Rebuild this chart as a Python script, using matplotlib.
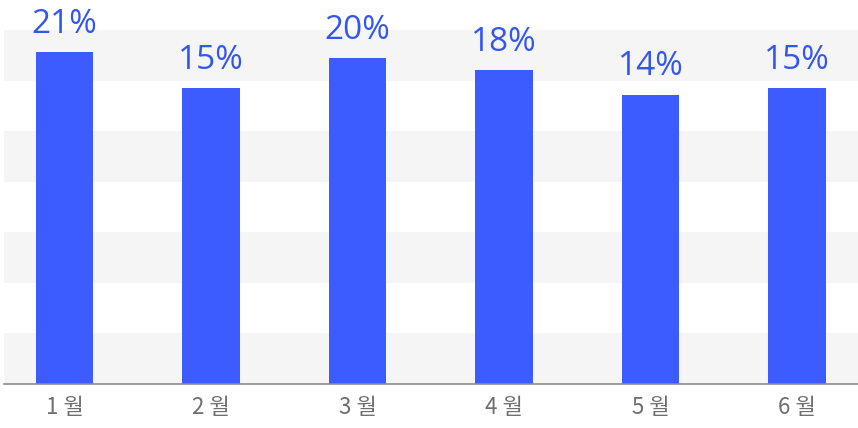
import matplotlib
matplotlib.use("Agg")
import matplotlib.pyplot as plt
from matplotlib.patches import Rectangle

# Monthly rates (%)
months = ["1 월", "2 월", "3 월", "4 월", "5 월", "6 월"]
rates = [21, 15, 20, 18, 14, 15]
rate_labels = ["21%", "15%", "20%", "18%", "14%", "15%"]

BAR_COLOR = "#3D5CFF"
LABEL_COLOR = "#3456F0"
TICK_COLOR = "#6E6E6E"
BAND_COLOR = "#F5F5F5"
AXIS_COLOR = "#8C8C8C"

Y_MIN, Y_MAX = -34.0, 24.7
N_BANDS = 7

fig = plt.figure(figsize=(8.58, 4.28), dpi=100)
ax = fig.add_axes([4 / 858, 44 / 428, 854 / 858, 354 / 428])

# Alternating horizontal bands, shaded from the bottom up
for k in range(0, N_BANDS, 2):
    ax.add_patch(Rectangle((0, k / N_BANDS), 1, 1 / N_BANDS, transform=ax.transAxes,
                           facecolor=BAND_COLOR, edgecolor="none", zorder=0))

x = list(range(len(months)))
heights = [r - Y_MIN for r in rates]
bars = ax.bar(x, heights, bottom=Y_MIN, width=0.39, color=BAR_COLOR, zorder=2)

for xi, r, lab in zip(x, rates, rate_labels):
    ax.annotate(lab, (xi, r), xytext=(0, 14), textcoords="offset points",
                ha="center", va="baseline", fontsize=24, color=LABEL_COLOR,
                family=["Open Sans", "DejaVu Sans"], zorder=3, annotation_clip=False)

ax.set_xlim(-0.413, 5.416)
ax.set_ylim(Y_MIN, Y_MAX)
ax.set_xticks(x)
ax.set_xticklabels(months, fontsize=16, color=TICK_COLOR,
                   family=["Noto Sans CJK KR", "DejaVu Sans"])
ax.tick_params(axis="x", length=0, pad=9)
ax.set_yticks([])
for side in ("top", "right", "left"):
    ax.spines[side].set_visible(False)
ax.spines["bottom"].set_color(AXIS_COLOR)
ax.spines["bottom"].set_linewidth(1.2)
ax.spines["bottom"].set_zorder(4)

fig.savefig("out.png", dpi=100, facecolor="white")
